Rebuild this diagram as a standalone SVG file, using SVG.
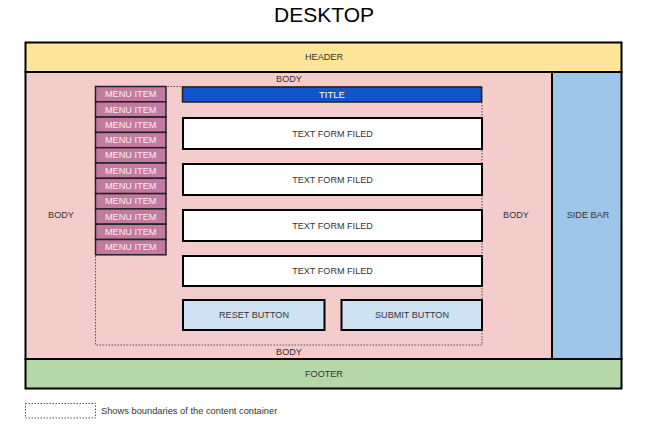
<svg xmlns="http://www.w3.org/2000/svg" width="651" height="434" viewBox="0 0 651 434">
<style>
text{font-family:"Liberation Sans",Arial,sans-serif;font-size:9.1px;fill:#333;text-anchor:middle;dominant-baseline:central}
.box{stroke:#000;stroke-width:2}
.menu rect{fill:#c27ba0;stroke:#222;stroke-width:1.5}
.menu text{fill:#f8eef4;font-size:9.2px}
.field{fill:#fff;stroke:#000;stroke-width:2}
.btn{fill:#cfe2f3;stroke:#000;stroke-width:2}
.dot{fill:none;stroke:#555;stroke-width:1;stroke-dasharray:1.5 1.5}
</style>
<rect width="651" height="434" fill="#fff"/>
<text x="324" y="14" style="font-size:21px;fill:#000">DESKTOP</text>
<g id="header"><rect class="box" x="25.5" y="42.5" width="596" height="29.5" fill="#ffe599"/><text x="324" y="57">HEADER</text></g>
<g id="body"><rect class="box" x="25.5" y="72" width="526.5" height="287" fill="#f4cccc"/>
<text x="61" y="215">BODY</text><text x="516" y="215">BODY</text><text x="289" y="79">BODY</text><text x="289" y="352">BODY</text></g>
<g id="sidebar"><rect class="box" x="552" y="72" width="69.5" height="287" fill="#9fc5e8"/><text x="588" y="215">SIDE BAR</text></g>
<g id="footer"><rect class="box" x="25.5" y="359" width="596" height="29.5" fill="#b6d7a8"/><text x="324" y="374">FOOTER</text></g>
<g id="container"><rect class="dot" x="95.5" y="86.5" width="386.5" height="258.5"/></g>
<g id="menu" class="menu">
<rect x="95.5" y="86.5" width="70.5" height="15.3"/><text x="130.7" y="94.2">MENU ITEM</text>
<rect x="95.5" y="101.8" width="70.5" height="15.3"/><text x="130.7" y="109.5">MENU ITEM</text>
<rect x="95.5" y="117.1" width="70.5" height="15.3"/><text x="130.7" y="124.8">MENU ITEM</text>
<rect x="95.5" y="132.4" width="70.5" height="15.3"/><text x="130.7" y="140.1">MENU ITEM</text>
<rect x="95.5" y="147.7" width="70.5" height="15.3"/><text x="130.7" y="155.4">MENU ITEM</text>
<rect x="95.5" y="163" width="70.5" height="15.3"/><text x="130.7" y="170.7">MENU ITEM</text>
<rect x="95.5" y="178.3" width="70.5" height="15.3"/><text x="130.7" y="186">MENU ITEM</text>
<rect x="95.5" y="193.6" width="70.5" height="15.3"/><text x="130.7" y="201.3">MENU ITEM</text>
<rect x="95.5" y="208.9" width="70.5" height="15.3"/><text x="130.7" y="216.6">MENU ITEM</text>
<rect x="95.5" y="224.2" width="70.5" height="15.3"/><text x="130.7" y="231.9">MENU ITEM</text>
<rect x="95.5" y="239.5" width="70.5" height="15.3"/><text x="130.7" y="247.2">MENU ITEM</text>
</g>
<g id="title"><rect x="182.5" y="87" width="299" height="15" fill="#1155cc" stroke="#222" stroke-width="1.5"/><text x="332" y="94.5" style="fill:#fff;font-size:9.5px">TITLE</text></g>
<g id="field1"><rect class="field" x="183" y="118" width="299" height="31"/><text x="332.5" y="133.5">TEXT FORM FILED</text></g>
<g id="field2"><rect class="field" x="183" y="164" width="299" height="31"/><text x="332.5" y="179.5">TEXT FORM FILED</text></g>
<g id="field3"><rect class="field" x="183" y="210" width="299" height="31"/><text x="332.5" y="225.5">TEXT FORM FILED</text></g>
<g id="field4"><rect class="field" x="183" y="256" width="299" height="30"/><text x="332.5" y="271">TEXT FORM FILED</text></g>
<g id="reset"><rect class="btn" x="183" y="300" width="141.5" height="30"/><text x="254" y="315">RESET BUTTON</text></g>
<g id="submit"><rect class="btn" x="341.5" y="300" width="140.5" height="30"/><text x="412" y="315">SUBMIT BUTTON</text></g>
<g id="legend"><rect class="dot" x="25.5" y="403.5" width="70" height="14.5"/><text x="101" y="411" style="text-anchor:start;font-size:9.3px">Shows boundaries of the content container</text></g>
<g id="connectors"></g>
</svg>
